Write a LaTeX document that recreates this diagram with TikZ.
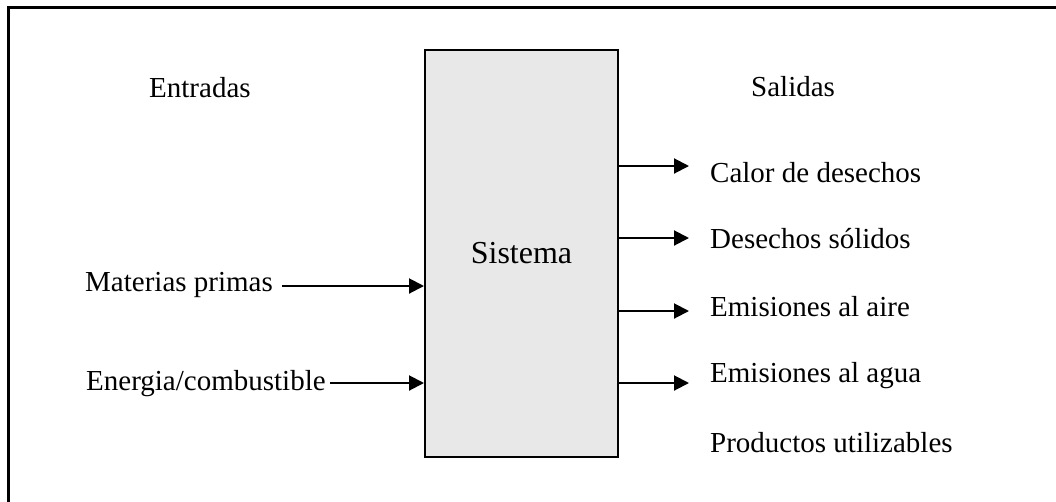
\documentclass[tikz,border=0pt]{standalone}
\usepackage{fontspec}
\setmainfont{Liberation Serif}
\usetikzlibrary{arrows.meta}
\begin{document}
\begin{tikzpicture}[x=1pt,y=-1pt,
  lbl/.style={inner sep=0pt,anchor=base west,font=\fontsize{29}{34}\selectfont},
  sysbox/.style={draw=black,line width=2pt,fill=gray!18,inner sep=0pt,
    minimum width=193pt,minimum height=407pt,font=\fontsize{32}{38}\selectfont},
  flow/.style={line width=2pt,-{Triangle[length=15pt,width=15pt]}},
  frameline/.style={line width=2.5pt}]
\useasboundingbox (0,0) rectangle (1056,501);
% outer frame (top and left edges)
\draw[frameline] (1070,7.5) -- (8.5,7.5) -- (8.5,515);
% central system block
\node[sysbox] (sys) at (521.5,253) {Sistema};
% headings
\node[lbl] (ent) at (149,97) {Entradas};
\node[lbl] (sal) at (751,96) {Salidas};
% inputs
\node[lbl] (mp) at (85,291) {Materias primas};
\node[lbl] (en) at (86,390) {Energia/combustible};
\coordinate (i1) at (282,286);
\coordinate (i2) at (330,383);
\draw[flow] (i1) -- (i1 -| sys.west);
\draw[flow] (i2) -- (i2 -| sys.west);
% outputs
\node[lbl] (cal) at (710,182) {Calor de desechos};
\node[lbl] (sol) at (710,248) {Desechos sólidos};
\node[lbl] (air) at (710,316) {Emisiones al aire};
\node[lbl] (agu) at (710,382) {Emisiones al agua};
\node[lbl] (pro) at (710,452) {Productos utilizables};
\coordinate (o1) at (689,166);
\coordinate (o2) at (689,238);
\coordinate (o3) at (689,311);
\coordinate (o4) at (689,383);
\foreach \o in {o1,o2,o3,o4}
  \draw[flow] (\o -| sys.east) -- (\o);
\end{tikzpicture}
\end{document}
